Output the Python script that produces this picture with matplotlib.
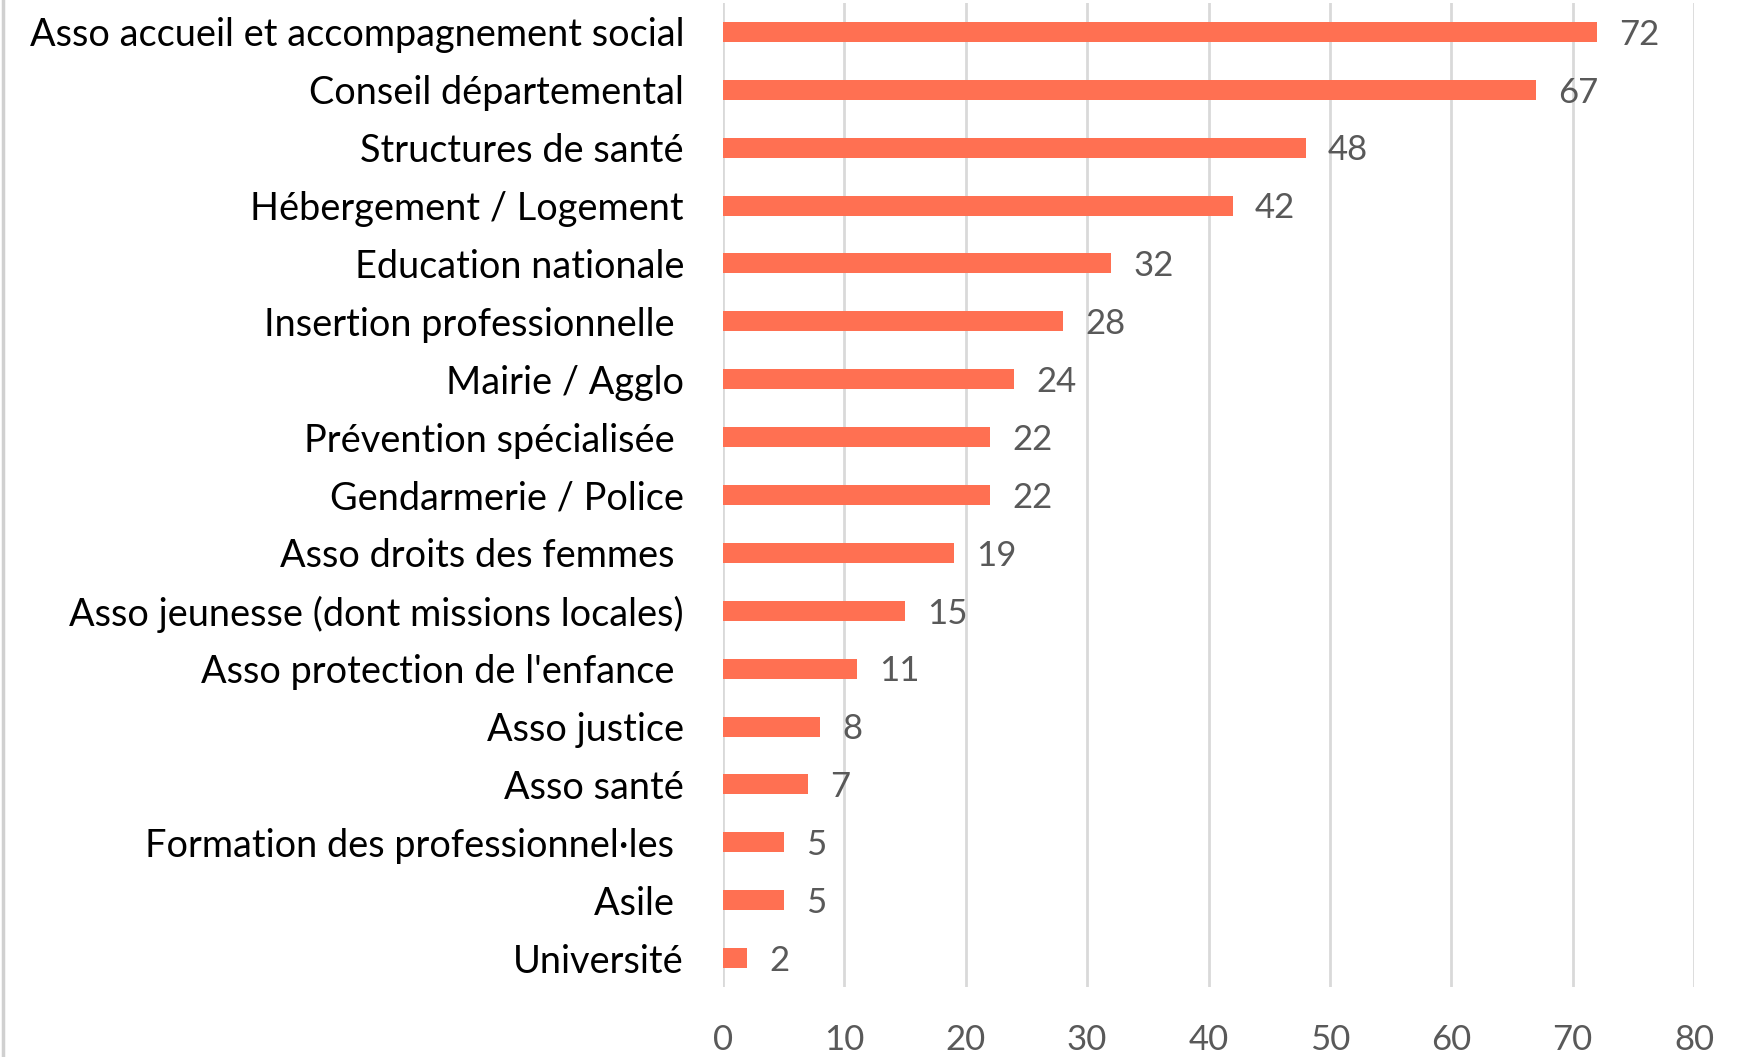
import matplotlib
matplotlib.use("Agg")
import matplotlib.pyplot as plt
from matplotlib.lines import Line2D

plt.rcParams['font.family'] = ['Lato', 'DejaVu Sans']

# donnees (de haut en bas)
categories = [
    "Asso accueil et accompagnement social",
    "Conseil départemental",
    "Structures de santé",
    "Hébergement / Logement",
    "Education nationale",
    "Insertion professionnelle ",
    "Mairie / Agglo",
    "Prévention spécialisée ",
    "Gendarmerie / Police",
    "Asso droits des femmes ",
    "Asso jeunesse (dont missions locales)",
    "Asso protection de l'enfance ",
    "Asso justice",
    "Asso santé",
    "Formation des professionnel·les ",
    "Asile ",
    "Université",
]
values = [72, 67, 48, 42, 32, 28, 24, 22, 22, 19, 15, 11, 8, 7, 5, 5, 2]
x_ticks = [0, 10, 20, 30, 40, 50, 60, 70, 80]

BAR_COLOR = '#ff7052'
GRID_COLOR = '#d9d9d9'
TEXT_GREY = '#595959'

fig = plt.figure(figsize=(17.49, 10.57), dpi=100)
W, H = 1749, 1057
ax = fig.add_axes([723 / W, 1 - 987 / H, (1694 - 723) / W, (987 - 3) / H])

ypos = list(range(len(categories)))[::-1]
bars = ax.barh(ypos, values, height=0.345, color=BAR_COLOR, zorder=3)

for y, v in zip(ypos, values):
    ax.annotate(str(v), (v, y), xytext=(16, -2), textcoords='offset points',
                ha='left', va='center', fontsize=25, color=TEXT_GREY)

ax.set_xlim(0, 80)
ax.set_ylim(-0.5, len(categories) - 0.5)
ax.set_xticks(x_ticks)
ax.set_xticklabels([str(t) for t in x_ticks], fontsize=25, color=TEXT_GREY)
ax.set_yticks(ypos)
ax.set_yticklabels(categories, fontsize=27.3, color='black')
ax.tick_params(axis='both', length=0)
ax.tick_params(axis='y', pad=28)
ax.tick_params(axis='x', pad=27)

ax.grid(True, axis='x', color=GRID_COLOR, linewidth=2, zorder=0)
for s in ax.spines.values():
    s.set_visible(False)

# bord gauche de l'image
fig.add_artist(Line2D([3 / W, 3 / W], [0, 1], transform=fig.transFigure,
                      color='#d0d0d0', linewidth=2.5))

fig.savefig("out.png", dpi=100)
